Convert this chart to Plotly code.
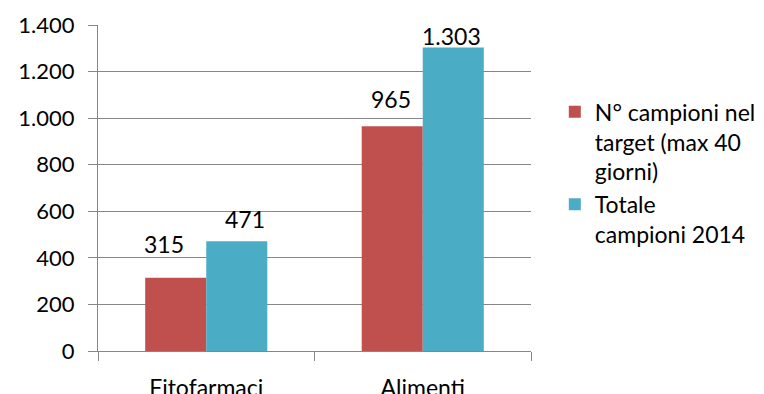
import plotly.graph_objects as go

categories = ["Fitofarmaci", "Alimenti"]
series_names = ["N° campioni nel<br>target (max 40<br>giorni)", "Totale<br>campioni 2014"]
target_values = [315, 965]
total_values = [471, 1303]
y_tick_values = [0, 200, 400, 600, 800, 1000, 1200, 1400]

colors = ["#C0504D", "#4BACC6"]
FONT = "Lato"

fig = go.Figure()
fig.add_trace(go.Bar(x=categories, y=target_values, name=series_names[0],
                     marker=dict(color=colors[0], line=dict(width=0))))
fig.add_trace(go.Bar(x=categories, y=total_values, name=series_names[1],
                     marker=dict(color=colors[1], line=dict(width=0))))

def fmt(v):
    return f"{v:,}".replace(",", ".")

# label placement styling (pixel offsets), per series per category
half_bar = 30.5
label_dx = [[-11.5, -1], [8.5, -2]]
label_dy = [[34, 27], [22, 12]]
for si, vals in enumerate([target_values, total_values]):
    side = -1 if si == 0 else 1
    for ci, (cat, v) in enumerate(zip(categories, vals)):
        fig.add_annotation(x=cat, y=v, xref="x", yref="y", text=fmt(v),
                           showarrow=False, xanchor="center", yanchor="middle",
                           xshift=side * half_bar + label_dx[si][ci],
                           yshift=label_dy[si][ci],
                           font=dict(family=FONT, size=23, color="#000000"))

fig.update_layout(
    width=764, height=394,
    margin=dict(l=98, r=233, t=25, b=43, autoexpand=False),
    paper_bgcolor="white", plot_bgcolor="white",
    barmode="group", bargap=0.436, bargroupgap=0,
    separators=",.",
    showlegend=True,
    legend=dict(x=1.055, xanchor="left", y=0.80, yanchor="top",
                valign="top", font=dict(family=FONT, size=23, color="#000000"),
                bgcolor="rgba(0,0,0,0)", tracegroupgap=0),
    font=dict(family=FONT, color="#000000"),
)
fig.update_yaxes(range=[0, 1400], tickvals=y_tick_values, tickformat=",d",
                 showgrid=True, gridcolor="#878787", gridwidth=1,
                 showline=True, linecolor="#878787", linewidth=1,
                 ticks="outside", ticklen=9, tickcolor="#878787",
                 tickfont=dict(family=FONT, size=22, color="#000000"),
                 ticklabelstandoff=9, zeroline=False)
fig.update_xaxes(showline=True, linecolor="#878787", linewidth=1,
                 ticks="outside", ticklen=9, tickcolor="#878787",
                 tickson="boundaries",
                 tickfont=dict(family=FONT, size=23, color="#000000"),
                 ticklabelstandoff=16, showgrid=False)

fig.write_html("out.html")
